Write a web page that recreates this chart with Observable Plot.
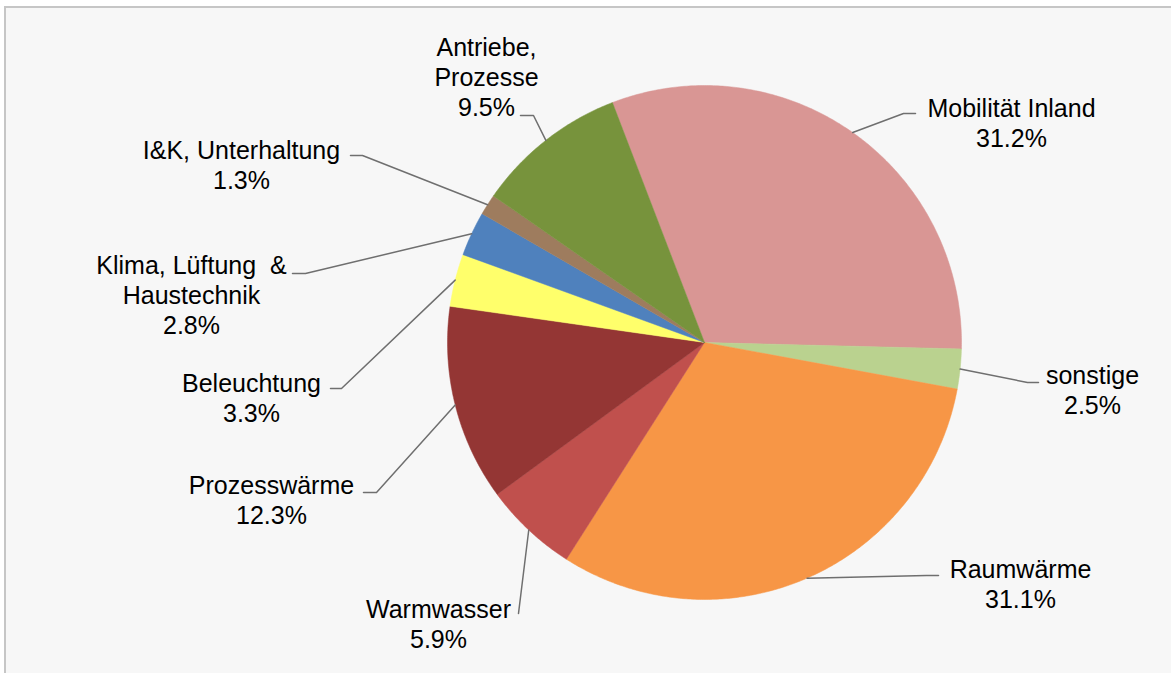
<!DOCTYPE html>
<html>
<head>
<meta charset="utf-8">
<script src="https://cdn.jsdelivr.net/npm/d3@7"></script>
<script src="https://cdn.jsdelivr.net/npm/@observablehq/plot@0.6"></script>
<style>
  html, body { margin: 0; padding: 0; background: #ffffff; }
  #wrap { position: relative; width: 1171px; height: 673px; overflow: hidden; }
  #frame { position: absolute; left: 4px; top: 6px; width: 1200px; height: 700px;
           border: 2px solid #c6c6c6; background: #f7f7f7; }
  #chart { position: absolute; left: 0; top: 0; }
  #chart svg { background: transparent; }
</style>
</head>
<body>
<div id="wrap"><div id="frame"></div><div id="chart"></div></div>
<script>
// ---- data ----
const categories = ["Mobilität Inland", "sonstige", "Raumwärme", "Warmwasser", "Prozesswärme",
  "Beleuchtung", "Klima, Lüftung & Haustechnik", "I&K, Unterhaltung", "Antriebe, Prozesse"];
const shares = [31.2, 2.5, 31.1, 5.9, 12.3, 3.3, 2.8, 1.3, 9.5];
const labelLines = ["Mobilität Inland", "sonstige", "Raumwärme", "Warmwasser", "Prozesswärme",
  "Beleuchtung", "Klima, Lüftung  &\nHaustechnik", "I&K, Unterhaltung", "Antriebe,\nProzesse"];
const colors = ["#d99694", "#bad28f", "#f79646", "#c0504d", "#943634",
  "#ffff6b", "#4f81bd", "#9e7c5e", "#77933c"];

// ---- layout (pixels, relative to the pie centre) ----
const W = 1171, H = 673;
const CX = 704, CY = 342, R = 257;
const startDeg = -21;
// label block: centre x, first baseline y (absolute px)
const labelAt = [[1011, 116], [1092, 383], [1020, 577], [438, 617], [271, 493],
  [251, 391], [191, 273], [241, 158], [486, 55]];
// leader line: elbow point and end point near the label (absolute px)
const leaderElbow = [[903, 113], [1027, 382], [926, 575], [518, 613], [376, 492],
  [341, 388], [305, 273], [362, 155], [533, 115]];
const leaderEnd = [[915, 113], [1038, 382], [938, 575], [518, 613], [363, 492],
  [330, 388], [292, 273], [350, 155], [520, 115]];

const rad = Math.PI / 180;
const arcs = d3.pie().sort(null)
  .startAngle(startDeg * rad).endAngle(startDeg * rad + 2 * Math.PI)(shares);

// slice polygons
const slicePts = [];
arcs.forEach((a, i) => {
  const name = categories[i];
  slicePts.push({name, x: 0, y: 0});
  const n = Math.max(4, Math.ceil((a.endAngle - a.startAngle) / rad * 2));
  for (let k = 0; k <= n; k++) {
    const t = a.startAngle + (a.endAngle - a.startAngle) * k / n;
    slicePts.push({name, x: R * Math.sin(t), y: -R * Math.cos(t)});
  }
  slicePts.push({name, x: 0, y: 0});
});

// leader lines
const leaderPts = [];
arcs.forEach((a, i) => {
  const m = (a.startAngle + a.endAngle) / 2;
  const name = categories[i];
  leaderPts.push({name, x: R * Math.sin(m), y: -R * Math.cos(m)});
  leaderPts.push({name, x: leaderElbow[i][0] - CX, y: leaderElbow[i][1] - CY});
  leaderPts.push({name, x: leaderEnd[i][0] - CX, y: leaderEnd[i][1] - CY});
});

const FS = 25;
const labels = categories.map((c, i) => ({
  name: c,
  text: labelLines[i] + "\n" + shares[i].toFixed(1) + "%",
  x: labelAt[i][0] - CX,
  y: labelAt[i][1] - CY - 0.71 * FS - 3
}));

const chart = Plot.plot({
  width: W, height: H,
  margin: 0,
  style: {background: "transparent", fontFamily: "'Liberation Sans', Arial, sans-serif"},
  x: {domain: [-CX, W - CX], axis: null},
  y: {domain: [-CY, H - CY], reverse: true, axis: null},
  color: {domain: categories, range: colors},
  marks: [
    Plot.line(slicePts, {x: "x", y: "y", z: "name", fill: "name", stroke: "name",
      strokeWidth: 0.5, curve: "linear-closed"}),
    Plot.line(leaderPts, {x: "x", y: "y", z: "name", stroke: "#6f6f6f", strokeWidth: 1.5}),
    Plot.text(labels, {x: "x", y: "y", text: "text", fill: "#000000", fontSize: FS,
      textAnchor: "middle", lineAnchor: "top", lineHeight: 1.2})
  ]
});
document.getElementById("chart").appendChild(chart);
</script>
</body>
</html>
